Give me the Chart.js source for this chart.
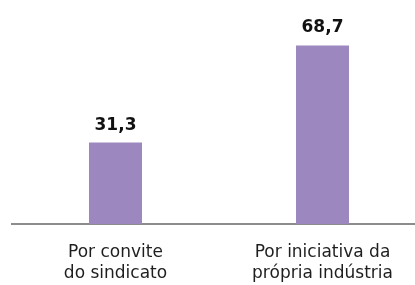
<!DOCTYPE html>
<html>
<head>
<meta charset="utf-8">
<script src="https://cdn.jsdelivr.net/npm/chart.js@4/dist/chart.umd.min.js"></script>
<style>
  html, body { margin: 0; padding: 0; background: #fff; overflow: hidden; }
  #wrap { width: 426px; height: 285px; }
</style>
</head>
<body>
<div id="wrap"><canvas id="c" width="426" height="285"></canvas></div>
<script>
// categorias e valores (%)
var categories = [['Por convite', 'do sindicato'], ['Por iniciativa da', 'própria indústria']];
var values = [31.3, 68.7];

var barColor = '#9c88bf';
var fontFamily = '"DejaVu Sans", sans-serif';

// rótulos de valor acima das barras, com vírgula decimal
var valueLabels = {
  id: 'valueLabels',
  afterDatasetsDraw: function (chart) {
    var ctx = chart.ctx;
    var meta = chart.getDatasetMeta(0);
    ctx.save();
    ctx.font = 'bold 17px ' + fontFamily;
    ctx.fillStyle = '#111';
    ctx.textAlign = 'center';
    ctx.textBaseline = 'alphabetic';
    meta.data.forEach(function (bar, i) {
      var txt = values[i].toFixed(1).replace('.', ',');
      ctx.fillText(txt, bar.x, bar.y - 13);
    });
    ctx.restore();
  }
};

new Chart(document.getElementById('c'), {
  type: 'bar',
  data: {
    labels: categories,
    datasets: [{
      data: values,
      backgroundColor: barColor,
      categoryPercentage: 1,
      barPercentage: 0.256
    }]
  },
  options: {
    responsive: false,
    animation: false,
    layout: { padding: { left: 12, right: 0, top: 16, bottom: 0 } },
    plugins: { legend: { display: false }, tooltip: { enabled: false } },
    scales: {
      y: {
        min: 0, max: 80,
        display: false
      },
      x: {
        grid: { display: false, drawTicks: false },
        border: { display: true, color: '#8c8c8c', width: 2 },
        ticks: {
          color: '#1e1e1e',
          font: { family: fontFamily, size: 17, lineHeight: 1.22 },
          padding: 18,
          maxRotation: 0,
          autoSkip: false
        },
        afterFit: function (s) { s.height = 61; }
      }
    }
  },
  plugins: [valueLabels]
});
</script>
</body>
</html>
